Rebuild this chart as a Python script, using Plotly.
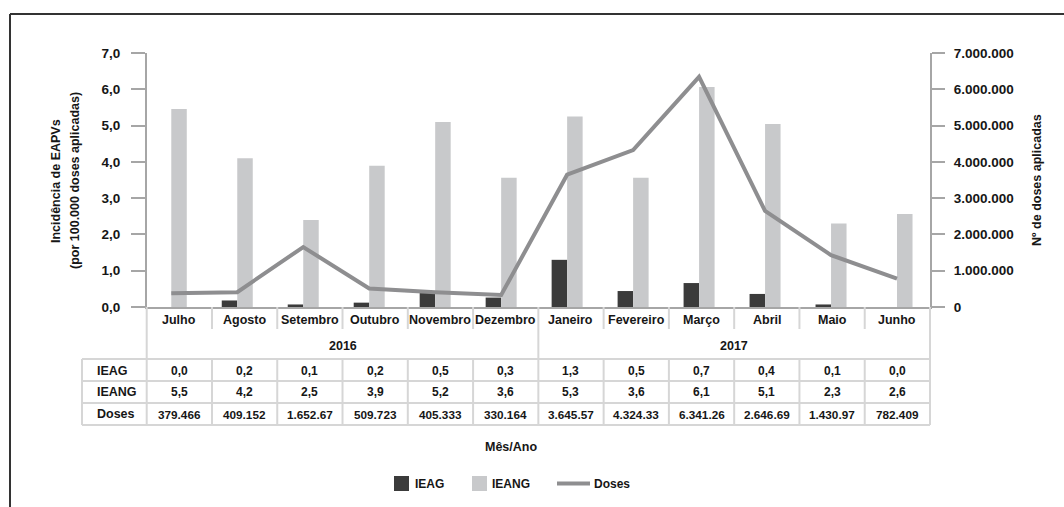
import plotly.graph_objects as go

# ---------------- data ----------------
months = ["Julho", "Agosto", "Setembro", "Outubro", "Novembro", "Dezembro",
          "Janeiro", "Fevereiro", "Março", "Abril", "Maio", "Junho"]
years = ["2016", "2017"]
ieag_bar = [0.0, 0.18, 0.07, 0.12, 0.44, 0.26, 1.30, 0.44, 0.66, 0.36, 0.07, 0.0]
ieang_bar = [5.46, 4.10, 2.40, 3.89, 5.10, 3.56, 5.25, 3.56, 6.06, 5.04, 2.30, 2.56]
doses = [379466, 409152, 1652670, 509723, 405333, 330164,
         3645570, 4324330, 6341260, 2646690, 1430970, 782409]
ieag_txt = ["0,0", "0,2", "0,1", "0,2", "0,5", "0,3", "1,3", "0,5", "0,7", "0,4", "0,1", "0,0"]
ieang_txt = ["5,5", "4,2", "2,5", "3,9", "5,2", "3,6", "5,3", "3,6", "6,1", "5,1", "2,3", "2,6"]
doses_txt = ["379.466", "409.152", "1.652.67", "509.723", "405.333", "330.164",
             "3.645.57", "4.324.33", "6.341.26", "2.646.69", "1.430.97", "782.409"]
left_ticks = [0, 1, 2, 3, 4, 5, 6, 7]
left_tick_text = ["0,0", "1,0", "2,0", "3,0", "4,0", "5,0", "6,0", "7,0"]
right_ticks = [0, 1e6, 2e6, 3e6, 4e6, 5e6, 6e6, 7e6]
right_tick_text = ["0", "1.000.000", "2.000.000", "3.000.000", "4.000.000",
                   "5.000.000", "6.000.000", "7.000.000"]

# ---------------- geometry helpers ----------------
W, H = 1064, 507
L, R, T, B = 147, 930, 53, 307
pw, ph = R - L, B - T


def X(px):
    return (px - L) / pw


def Y(py):
    return (B - py) / ph


FONT = "Liberation Sans, Arial, sans-serif"
TXT = "#161616"
AXC = "#a6a6a6"
GRIDC = "#d6d6d6"
DARK = "#3b3b3b"
LIGHT = "#c8c9cb"
LINEC = "#8e8e90"

fig = go.Figure()
fig.add_trace(go.Bar(x=months, y=ieag_bar, name="IEAG", marker_color=DARK,
                     marker_line_width=0, showlegend=False))
fig.add_trace(go.Bar(x=months, y=ieang_bar, name="IEANG", marker_color=LIGHT,
                     marker_line_width=0, showlegend=False))
fig.add_trace(go.Scatter(x=months, y=doses, name="Doses", yaxis="y2", mode="lines",
                         line=dict(color=LINEC, width=4), showlegend=False))

shapes = []
ann = []


def line(x0, y0, x1, y1, color=GRIDC, width=2):
    shapes.append(dict(type="line", xref="paper", yref="paper",
                       x0=X(x0), y0=Y(y0), x1=X(x1), y1=Y(y1),
                       line=dict(color=color, width=width)))


def text(s, x, y, size=12.5, xanchor="center", angle=0):
    ann.append(dict(text=s, xref="paper", yref="paper", x=X(x), y=Y(y),
                    xanchor=xanchor, yanchor="middle", showarrow=False,
                    textangle=angle,
                    font=dict(family=FONT, size=size, color=TXT, weight="bold")))


# outer frame
line(10, 14, 1064, 14, color="#333333", width=2)
line(10, 14, 10, 507, color="#333333", width=2)

# ---------------- data table ----------------
cw = (R - 146.7) / 12
cols = [146.7 + k * cw for k in range(13)]
row_top = 359
rows = [359, 381, 403, 425]
for k in range(1, 12):
    if k == 6:
        continue
    line(cols[k], 307, cols[k], 329)
    line(cols[k], row_top, cols[k], rows[-1])
for xx in (cols[0], cols[6], cols[12]):
    line(xx, 307, xx, rows[-1])
line(82, row_top, 82, rows[-1])
for yy in rows:
    line(82, yy, R, yy)

for i, m in enumerate(months):
    cx = (cols[i] + cols[i + 1]) / 2
    text(m, cx, 320, size=12.5)
    text(ieag_txt[i], cx, 371, size=12)
    text(ieang_txt[i], cx, 392, size=12)
    text(doses_txt[i], cx, 414, size=11.75)
text(years[0], (cols[0] + cols[6]) / 2, 346, size=12.5)
text(years[1], (cols[6] + cols[12]) / 2, 346, size=12.5)
text("IEAG", 95, 371, size=12.5, xanchor="left")
text("IEANG", 95, 392, size=12.5, xanchor="left")
text("Doses", 95, 414, size=12.5, xanchor="left")

# axis titles
text("Mês/Ano", 511, 447, size=12.5)
text("Incidência de EAPVs", 56, 181, size=12.5, angle=-90)
text("(por 100.000 doses aplicadas)", 75, 181, size=12.5, angle=-90)
text("Nº de doses aplicadas", 1037, 180, size=12.5, angle=-90)

# legend
shapes.append(dict(type="rect", xref="paper", yref="paper",
                   x0=X(394), x1=X(409), y0=Y(476), y1=Y(491),
                   fillcolor=DARK, line=dict(width=0)))
text("IEAG", 413, 484, size=12, xanchor="left")
shapes.append(dict(type="rect", xref="paper", yref="paper",
                   x0=X(472), x1=X(487), y0=Y(476), y1=Y(491),
                   fillcolor=LIGHT, line=dict(width=0)))
text("IEANG", 490, 484, size=12, xanchor="left")
line(557, 483.5, 590, 483.5, color=LINEC, width=4)
text("Doses", 592, 484, size=12, xanchor="left")

fig.update_layout(
    width=W, height=H,
    margin=dict(l=L, r=W - R, t=T, b=H - B, pad=0),
    paper_bgcolor="white", plot_bgcolor="white",
    barmode="group", bargap=0.53, bargroupgap=0,
    showlegend=False,
    font=dict(family=FONT, size=12.5, color=TXT, weight="bold"),
    xaxis=dict(type="category", range=[-0.368, 11.5], showticklabels=False,
               showline=True, linecolor=AXC, linewidth=2, ticks="",
               showgrid=False, zeroline=False, fixedrange=True),
    yaxis=dict(range=[0, 7], tickvals=left_ticks, ticktext=left_tick_text,
               showline=True, linecolor=AXC, linewidth=2, ticks="outside",
               ticklen=14, tickcolor=AXC, tickwidth=1.5, showgrid=False,
               zeroline=False, ticklabelstandoff=8,
               tickfont=dict(family=FONT, size=13.5, color=TXT, weight="bold")),
    yaxis2=dict(range=[0, 7e6], tickvals=right_ticks, ticktext=right_tick_text,
                overlaying="y", side="right", showline=True, linecolor=AXC,
                linewidth=2, ticks="outside", ticklen=13, tickcolor=AXC,
                tickwidth=1.5, showgrid=False, zeroline=False, ticklabelstandoff=6,
                tickfont=dict(family=FONT, size=13.5, color=TXT, weight="bold")),
    shapes=shapes, annotations=ann,
)

fig.write_html("out.html", config={"displayModeBar": False},
               post_script="document.body.style.margin='0';document.body.style.overflow='hidden';")
